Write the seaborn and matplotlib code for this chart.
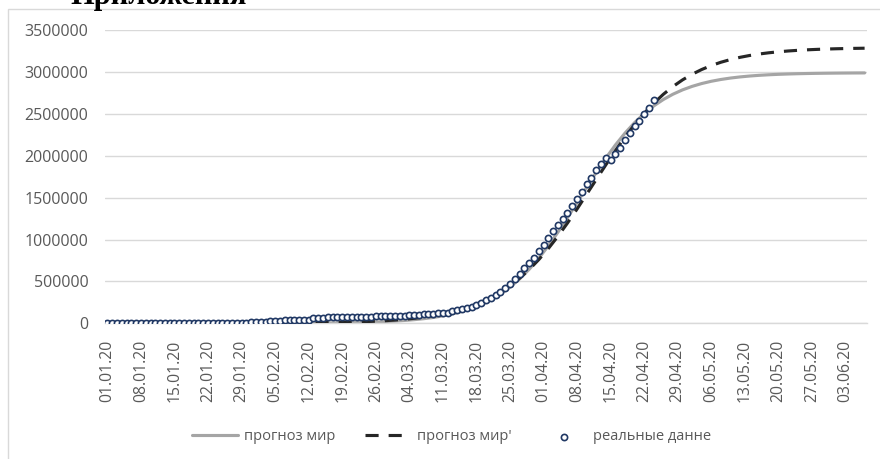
import matplotlib
matplotlib.use("Agg")
import matplotlib.pyplot as plt
import matplotlib.dates as mdates
from matplotlib.patches import Rectangle
from matplotlib.ticker import FuncFormatter, FixedLocator
import numpy as np
import pandas as pd
import seaborn as sns

# --- data -----------------------------------------------------------------
start_date = "2020-01-01"
n_days = 159                      # 01.01.20 .. 07.06.20, one category per day
tick_step_days = 7

# reported cumulative cases, daily from 01.01.20
real_cases = [
    27, 27, 27, 44, 44, 59, 59, 59, 59, 59,
    41, 41, 41, 41, 41, 41, 45, 62, 121, 198, 291,
    555, 654, 941, 1434, 2118, 2927, 5578, 6166, 8234, 9927,
    12038, 16787, 19887, 23898, 27643, 30802, 34395, 37129, 40160, 42769,
    44811, 45229, 60381, 66909, 69052, 71235, 73270, 75152, 75652, 76212,
    76843, 78599, 78985, 79570, 80415, 81397, 82756, 84124, 86013,
    88371, 90309, 92844, 95124, 97886, 101800, 105836, 109835, 113582, 118582,
    125865, 128343, 145193, 156097, 167449, 181546, 197168, 214915, 242713, 272167,
    304528, 336953, 378235, 418045, 467653, 529591, 593291, 660706, 720117, 782365, 857487,
    932605, 1013466, 1095917, 1176060, 1249754, 1321481, 1396476, 1479804, 1565278, 1657526,
    1735650, 1834721, 1904838, 1976191,
    1945000, 2015000, 2095000, 2185000, 2265000, 2350000, 2420000, 2500000, 2575000, 2665000,
]

# forecast series, every second day from 01.01.20
forecast_world = [
    18, 23, 29, 37, 47, 60, 77, 99, 126, 160,
    205, 261, 333, 426, 543, 693, 885, 1129, 1440, 1838,
    2346, 2993, 3819, 4872, 6216, 7929, 10110, 12890, 16440, 20950,
    26700, 33990, 43250, 54980, 69830, 88570, 112110, 141640, 178400, 224140,
    280220, 348650, 431080, 529110, 643840, 775620, 923690, 1086480, 1260010, 1440480,
    1622530, 1800770, 1970480, 2127510, 2269280, 2394300, 2502090, 2593690, 2670360, 2733590,
    2785280, 2827160, 2860970, 2888050, 2909410, 2926500, 2940020, 2950700, 2959130, 2965740,
    2970960, 2975070, 2978290, 2980820, 2982810, 2984360, 2985580, 2986530, 2987280, 2987870,
]
forecast_world_alt = [
    63, 78, 96, 119, 148, 183, 227, 282, 349, 433,
    537, 665, 824, 1022, 1266, 1570, 1946, 2412, 2989, 3704,
    4590, 5688, 7047, 8731, 10815, 13395, 16590, 20536, 25420, 31450,
    38900, 48090, 59400, 73310, 90380, 111300, 136860, 167940, 205750, 251340,
    305900, 370910, 447680, 537410, 641080, 759290, 891840, 1038180, 1196360, 1363970,
    1540020, 1715870, 1890590, 2060000, 2220420, 2369470, 2504760, 2625910, 2732560, 2825000,
    2904310, 2971730, 3028350, 3075620, 3114940, 3147120, 3173840, 3195720, 3213520, 3228020,
    3239820, 3249380, 3257170, 3263470, 3268560, 3272690, 3276010, 3278720, 3280880, 3282640,
]

y_ticks = [0, 500000, 1000000, 1500000, 2000000, 2500000, 3000000, 3500000]
labels = ["прогноз мир", "прогноз мир'", "реальные данне"]

# --- frames ---------------------------------------------------------------
real_df = pd.DataFrame({
    "date": pd.date_range(start_date, periods=len(real_cases), freq="D"),
    "cases": real_cases,
})
fc_dates = pd.date_range(start_date, periods=len(forecast_world), freq="2D")
fc_df = pd.DataFrame({"date": fc_dates, "a": forecast_world, "b": forecast_world_alt})
all_days = pd.date_range(start_date, periods=n_days, freq="D")
tick_days = all_days[::tick_step_days]

# --- styling --------------------------------------------------------------
sns.set_theme(style="white")
plt.rcParams["font.family"] = ["Open Sans", "DejaVu Sans"]

W, H = 880, 459
fig = plt.figure(figsize=(W / 100, H / 100), dpi=100)
fig.patch.set_facecolor("white")

# chart-area frame
fig.add_artist(Rectangle((7.5 / W, -0.1), 1.2, (H - 9.5) / H + 0.1,
                         transform=fig.transFigure, fill=False,
                         edgecolor="#D9D9D9", linewidth=1.0))

# heading above the chart
fig.text(70 / W, 1 - 4.0 / H, "Приложения", fontfamily="Liberation Serif",
         fontweight="bold", fontsize=22, va="baseline", ha="left", color="black")

left, right, top, bottom = 105, 867, 30, 323.3
ax = fig.add_axes([left / W, (H - bottom) / H, (right - left) / W, (bottom - top) / H])
ax.set_facecolor("white")

sns.lineplot(data=fc_df, x="date", y="a", ax=ax, color="#A5A5A5",
             linewidth=2.25, label=labels[0], zorder=2)
sns.lineplot(data=fc_df, x="date", y="b", ax=ax, color="#262626",
             linewidth=2.25, label=labels[1], zorder=3)
ax.lines[1].set_dashes((4.2, 3.2))
sns.scatterplot(data=real_df, x="date", y="cases", ax=ax, marker="o", s=20,
                facecolor="white", edgecolor="#203864", linewidth=1.2,
                label=labels[2], zorder=4)

x0 = mdates.date2num(all_days[0]) - 0.5
x1 = mdates.date2num(all_days[-1]) + 0.5
ax.set_xlim(x0, x1)
ax.set_ylim(0, 3500000)

ax.xaxis.set_major_locator(FixedLocator(mdates.date2num(tick_days)))
ax.xaxis.set_major_formatter(mdates.DateFormatter("%d.%m.%y"))
ax.yaxis.set_major_locator(FixedLocator(y_ticks))
ax.yaxis.set_major_formatter(FuncFormatter(lambda v, p: f"{int(round(v))}"))

ax.grid(axis="y", color="#D9D9D9", linewidth=1.0, zorder=0)
ax.grid(axis="x", visible=False)
ax.set_axisbelow(True)
for side in ("top", "right", "left"):
    ax.spines[side].set_visible(False)
ax.spines["bottom"].set_color("#D9D9D9")
ax.spines["bottom"].set_linewidth(1.0)

ax.tick_params(axis="x", length=0, pad=12, labelsize=11.3, labelcolor="#595959",
               labelrotation=90)
ax.tick_params(axis="y", length=0, pad=12, labelsize=11.5, labelcolor="#595959")
ax.set_xlabel("")
ax.set_ylabel("")

handles, hl = ax.get_legend_handles_labels()
ax.get_legend().remove()
fig.legend(handles, hl, loc="center", bbox_to_anchor=(451.5 / W, 22 / H),
           ncol=3, frameon=False, fontsize=10.5, handlelength=3.2,
           handletextpad=0.4, columnspacing=2.0, labelcolor="#595959")

fig.savefig("out.png", dpi=100, facecolor="white")
